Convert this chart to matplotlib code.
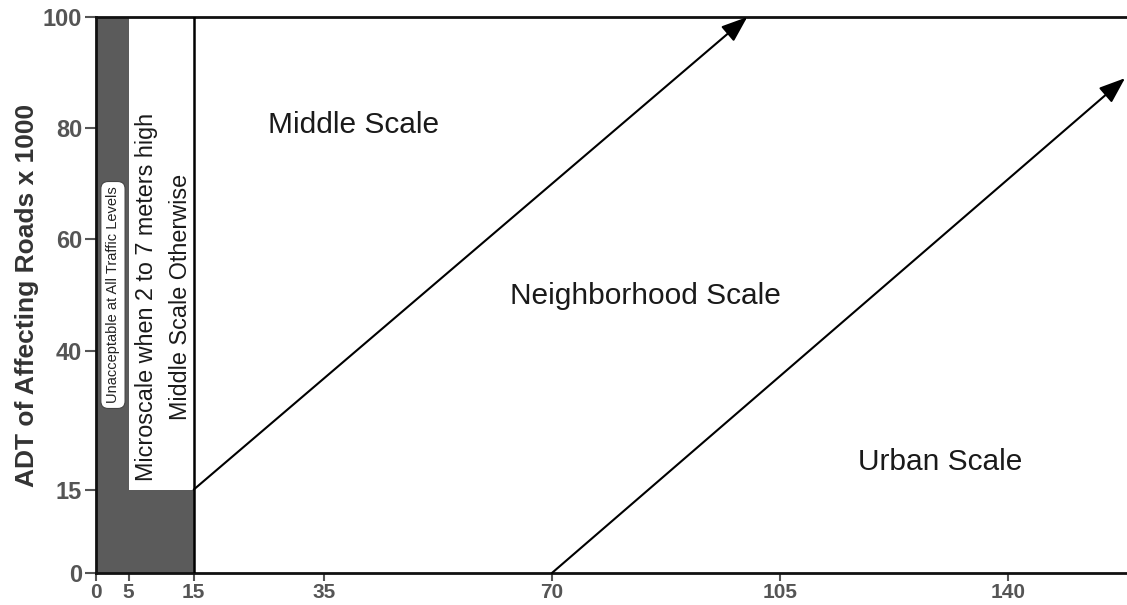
import matplotlib.pyplot as plt
from matplotlib.patches import Polygon

plt.rcParams['font.family'] = ['Liberation Sans', 'DejaVu Sans']

# zone boundaries (x = distance, y = ADT x 1000)
x_ticks = [0, 5, 15, 35, 70, 105, 140]
y_ticks = [0, 15, 40, 60, 80, 100]
unacceptable_x = [0, 0, 5, 5, 15, 15]
unacceptable_y = [0, 100, 100, 15, 15, 0]
arrow1_start = (15, 15)
arrow1_end = (100, 100)
arrow2_start = (70, 0)
arrow2_end = (158, 89)

labels = ["Middle Scale", "Neighborhood Scale", "Urban Scale"]
label_x = [39.6, 84.4, 129.6]
label_y = [80.6, 49.8, 20]


def main() -> None:
    fig = plt.figure(figsize=(11.27, 6.05), dpi=100)
    ax = fig.add_axes([0.0852, 0.0529, 0.9148, 0.9190])
    ax.set_xlim(0, 158.3)
    ax.set_ylim(0, 100)

    # dark region: x 0-5 all levels, 0-15 below 15
    poly = Polygon(list(zip(unacceptable_x, unacceptable_y)), closed=True,
                   facecolor="#5b5b5b", edgecolor="none", zorder=1)
    ax.add_patch(poly)
    ax.plot([15, 15], [0, 100], color="black", lw=1.8, zorder=3)

    for start, end in [(arrow1_start, arrow1_end), (arrow2_start, arrow2_end)]:
        ax.annotate("", xy=end, xytext=start,
                    arrowprops=dict(arrowstyle="-|>,head_length=0.8,head_width=0.3",
                                    color="black", lw=1.5, mutation_scale=20,
                                    shrinkA=0, shrinkB=0), zorder=4)

    ax.text(2.6, 50, "Unacceptable at All Traffic Levels", rotation=90,
            ha="center", va="center", fontsize=10.5, color="#222222", zorder=5,
            bbox=dict(boxstyle="round,pad=0.35,rounding_size=0.5",
                      facecolor="white", edgecolor="#444444", lw=0.8))
    ax.text(10.4, 49.7, "Microscale when 2 to 7 meters high\nMiddle Scale Otherwise",
            rotation=90, ha="center", va="center", fontsize=16.8,
            color="#1a1a1a", linespacing=1.6, zorder=5)

    for t, x, y in zip(labels, label_x, label_y):
        ax.text(x, y, t, ha="center", va="center", fontsize=21.5, color="#1a1a1a")

    for s in ["left", "bottom", "top"]:
        ax.spines[s].set_linewidth(2)
        ax.spines[s].set_color("#111111")
    ax.spines["right"].set_visible(False)

    ax.set_xticks(x_ticks)
    ax.set_yticks(y_ticks)
    ax.tick_params(axis="both", direction="out", width=1.5,
                   color="#555555", labelcolor="#555555")
    ax.tick_params(axis="y", length=8, labelsize=17, pad=2)
    ax.tick_params(axis="x", length=6, labelsize=15, pad=1)
    for lab in ax.get_xticklabels() + ax.get_yticklabels():
        lab.set_fontweight("bold")

    ax.set_ylabel("ADT of Affecting Roads x 1000", fontsize=19, fontweight="bold",
                  color="#333333", labelpad=3)

    fig.savefig("out.png", dpi=100)


if __name__ == "__main__":
    main()
